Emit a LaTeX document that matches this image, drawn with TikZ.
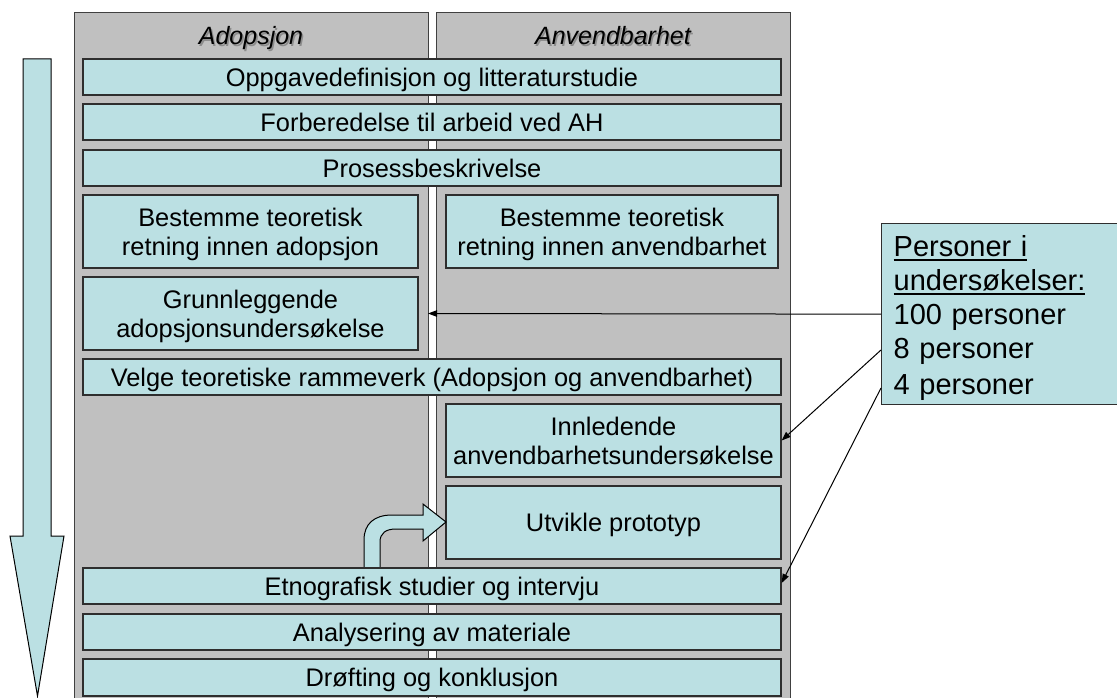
\documentclass[tikz,border=0pt]{standalone}
\usepackage{fontspec}
\setmainfont{Liberation Sans}
\usetikzlibrary{arrows.meta,calc}

\definecolor{boxfill}{HTML}{BBE0E3}
\definecolor{lanegray}{HTML}{C0C0C0}
\definecolor{edge}{HTML}{2E2E2E}

% struts giving each text line a fixed height and depth
\newcommand\boxstrut{\leavevmode\rule[-5.5pt]{0pt}{29.5pt}}
\newcommand\notestrut{\leavevmode\rule[-5.5pt]{0pt}{34pt}}
% thick underline
\newcommand\undl[1]{\leavevmode\setbox0\hbox{#1}\rlap{\rule[-4.2pt]{\wd0}{1.8pt}}\box0}
% text with a soft drop shadow
\newcommand\shadowed[1]{\leavevmode\rlap{\hspace{1.5pt}\raisebox{-1.5pt}{\textcolor{black!45}{#1}}}#1}

\begin{document}
\begin{tikzpicture}[x=1pt,y=-1pt,
  lane/.style={fill=lanegray,draw=black!75,line width=1pt},
  lanetitle/.style={inner sep=0pt,anchor=base,font=\fontsize{25}{29}\selectfont\itshape},
  stepbox/.style={draw=edge,fill=boxfill,line width=1.3pt,inner sep=0pt,align=center,
    font=\fontsize{25.4}{29.5}\selectfont},
  note/.style={draw=edge,fill=boxfill,line width=1.3pt,inner xsep=12pt,inner ysep=0pt,
    text width=216pt,align=left,font=\fontsize{29}{34}\selectfont},
  blockarrow/.style={draw=black,fill=boxfill,line width=1pt,line join=miter},
  link/.style={draw=black,line width=1pt,-{Triangle[length=9pt,width=6.5pt]}}
]
\useasboundingbox (0,0) rectangle (1117,698);

% the two lanes
\draw[lane] (74,13) rectangle (428,710);
\draw[lane] (436,13) rectangle (790,710);
\node[lanetitle] (tAdop) at (251,45) {\shadowed{Adopsjon}};
\node[lanetitle] (tAnv) at (613,45) {\shadowed{Anvendbarhet}};

% time arrow
\draw[blockarrow] (23,59) -- (51,59) -- (51,536) -- (64,536) -- (37.5,696)
  -- (10,536) -- (23,536) -- cycle;

% process steps
\node[stepbox,minimum width=698,minimum height=36] (s1) at (432,77) {\boxstrut Oppgavedefinisjon og litteraturstudie\boxstrut};
\node[stepbox,minimum width=698,minimum height=36] (s2) at (432,122) {\boxstrut Forberedelse til arbeid ved AH\boxstrut};
\node[stepbox,minimum width=698,minimum height=36] (s3) at (432,168) {\boxstrut Prosessbeskrivelse\boxstrut};
\node[stepbox,minimum width=335,minimum height=73] (s4a) at (250.5,231.5) {\boxstrut Bestemme teoretisk\\retning innen adopsjon\boxstrut};
\node[stepbox,minimum width=332,minimum height=73] (s4b) at (612,231.5) {\boxstrut Bestemme teoretisk\\retning innen anvendbarhet\boxstrut};
\node[stepbox,minimum width=335,minimum height=73] (s5) at (250.5,313.5) {\boxstrut Grunnleggende\\adopsjonsundersøkelse\boxstrut};
\node[stepbox,minimum width=698,minimum height=36] (s6) at (432,377) {\boxstrut Velge teoretiske rammeverk (Adopsjon og anvendbarhet)\boxstrut};
\node[stepbox,minimum width=335,minimum height=73] (s7) at (613.5,440.5) {\boxstrut Innledende\\anvendbarhetsundersøkelse\boxstrut};
\node[stepbox,minimum width=335,minimum height=73] (s8) at (613.5,522.5) {\boxstrut Utvikle prototyp\boxstrut};

% bent arrow from the field study up to the prototype
\draw[blockarrow] (364,568) -- (364,540)
  .. controls (364,524) and (374,515) .. (392,515)
  -- (423,515) -- (423,504) -- (446,522) -- (423,541) -- (423,529) -- (396,529)
  .. controls (386,529) and (380,533) .. (380,542) -- (380,568) -- cycle;

\node[stepbox,minimum width=698,minimum height=36] (s9) at (432,586) {\boxstrut Etnografisk studier og intervju\boxstrut};
\node[stepbox,minimum width=698,minimum height=36] (s10) at (432,632) {\boxstrut Analysering av materiale\boxstrut};
\node[stepbox,minimum width=698,minimum height=37] (s11) at (432,677.5) {\boxstrut Drøfting og konklusjon\boxstrut};

% participants note
\node[note,anchor=north west,minimum width=240,minimum height=181] (persons) at (881,223)
  {\notestrut\undl{Personer i}\\\undl{undersøkelser:}\\100 personer\\8 personer\\4 personer\notestrut};

% links from the note to the studies
\coordinate (gapL) at (428,313.5);
\draw[link] (persons.west) -- (gapL);
\draw[link] ($(persons.north west)+(0,127)$) -- (s7.east);
\draw[link] ($(persons.north west)+(0,165)$) -- ($(s9.east)+(0,-3)$);
\end{tikzpicture}
\end{document}
